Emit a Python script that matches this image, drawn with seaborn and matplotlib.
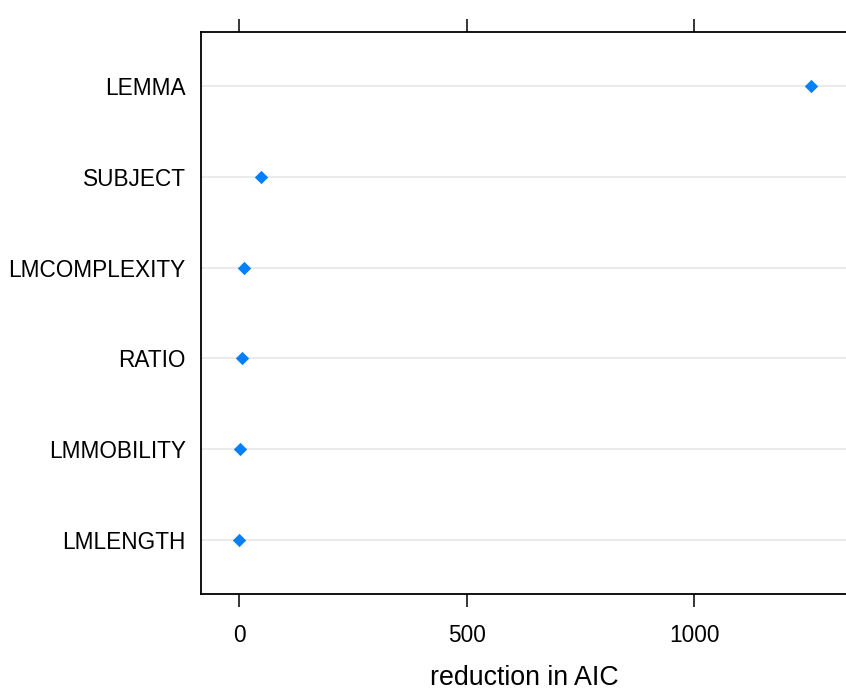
"""
Dot plot of reduction in AIC for each predictor.
"""
import matplotlib
matplotlib.use('Agg')
import matplotlib.pyplot as plt
import pandas as pd
import seaborn as sns

# predictors, top to bottom
predictors = ['LEMMA', 'SUBJECT', 'LMCOMPLEXITY', 'RATIO', 'LMMOBILITY',
              'LMLENGTH']
# reduction in AIC
aic_reduction = [1257, 48, 10, 5, 2, 0]
x_ticks = [0, 500, 1000]


def plot_dotplot(df):
    """
        lattice style dotplot of the AIC reductions
    """
    sns.set_style('white')
    plt.rcParams['font.family'] = ['Liberation Sans', 'DejaVu Sans']
    plt.rcParams['text.color'] = 'black'
    plt.rcParams['xtick.color'] = 'black'
    plt.rcParams['ytick.color'] = 'black'
    plt.rcParams['axes.labelcolor'] = 'black'

    fig = plt.figure(figsize=(8.46, 6.93), dpi=100)
    ax = fig.add_axes([0.2376, 0.1429, 0.7624 + 0.002, 0.8109])

    sns.stripplot(data=df, x='reduction', y='predictor', orient='h',
                  jitter=False, marker='D', size=6.8, color='#0080ff',
                  linewidth=0, ax=ax, zorder=3)

    # horizontal guide lines behind the dots (stripplot switches them off)
    ax.set_axisbelow(True)
    ax.yaxis.grid(True, color='#e6e6e6', linewidth=1.2)

    ax.set_xlim(-84.5, 1338)
    ax.set_ylim(len(predictors) - 0.4, -0.6)
    ax.set_xticks(x_ticks)
    ax.set_xticklabels([str(t) for t in x_ticks])
    ax.set_xlabel('reduction in AIC', fontsize=19.3, labelpad=13)
    ax.set_ylabel('')

    # ticks outside at bottom and top, labels only at the bottom
    ax.tick_params(axis='x', direction='out', length=9.5, width=1.1,
                   color='black', labelsize=16.3, pad=12, top=True,
                   bottom=True, labeltop=False)
    ax.tick_params(axis='y', length=0, labelsize=16.3, pad=11)

    for side in ['left', 'bottom', 'top']:
        ax.spines[side].set_visible(True)
        ax.spines[side].set_color('black')
        ax.spines[side].set_linewidth(1.3)
    ax.spines['right'].set_visible(False)

    plt.savefig('out.png', dpi=100)
    plt.close()


def main():
    """
        build the data frame and draw the chart
    """
    df = pd.DataFrame({'predictor': predictors, 'reduction': aic_reduction})
    plot_dotplot(df)


if __name__ == '__main__':
    main()
